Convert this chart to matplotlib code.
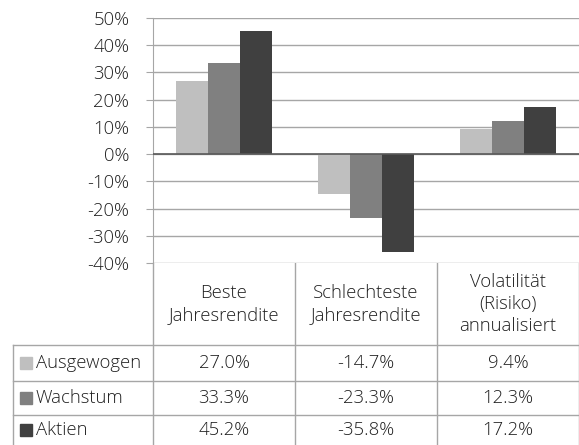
import numpy as np
import matplotlib.pyplot as plt
from matplotlib.ticker import PercentFormatter

plt.rcParams['font.family'] = ['Open Sans', 'DejaVu Sans']
plt.rcParams['font.weight'] = 300
plt.rcParams['axes.unicode_minus'] = False

# Daten
kategorien = ['Beste\nJahresrendite', 'Schlechteste\nJahresrendite', 'Volatilität\n(Risiko)\nannualisiert']
serien = ['Ausgewogen', 'Wachstum', 'Aktien']
ausgewogen = [27.0, -14.7, 9.4]
wachstum = [33.3, -23.3, 12.3]
aktien = [45.2, -35.8, 17.2]
farben = ['#BFBFBF', '#808080', '#404040']
y_ticks = list(range(-40, 51, 10))

W, H = 579, 445
fig = plt.figure(figsize=(W / 100, H / 100), dpi=100)
textfarbe = '#1F1F1F'
grau = '#A6A6A6'
fs = 13.3

# Diagrammbereich (Pixel: links 153, oben 18, unten 263)
ax = fig.add_axes([153 / W, 1 - 263 / H, (W - 153) / W, (263 - 18) / H])
x = np.arange(len(kategorien))
breite = 0.225
werte = [ausgewogen, wachstum, aktien]
for i, (name, vals) in enumerate(zip(serien, werte)):
    ax.bar(x + (i - 1) * breite, vals, breite, color=farben[i], zorder=3)

ax.set_xlim(-0.5, len(kategorien) - 0.5)
ax.set_ylim(-40, 50)
ax.set_yticks(y_ticks)
ax.yaxis.set_major_formatter(PercentFormatter(decimals=0))
ax.set_xticks([])
ax.grid(axis='y', color=grau, lw=1, zorder=0)
ax.axhline(0, color='#595959', lw=1.2, zorder=4)
for s in ['top', 'right', 'bottom']:
    ax.spines[s].set_visible(False)
ax.spines['left'].set_color(grau)
ax.tick_params(axis='y', length=5, color=grau, labelsize=fs, labelcolor=textfarbe, pad=12)

# Datentabelle unterhalb (Pixelkoordinaten)
tab = fig.add_axes([0, 0, 1, 1], zorder=-1)
tab.set_xlim(0, W)
tab.set_ylim(H, 0)
tab.axis('off')

spalten_x = [153, 295, 437, 579]
zeilen_y = [263, 345, 381, 415, 445]
lc = grau
for sx in spalten_x:
    tab.plot([sx, sx], [263, H], color=lc, lw=1)
tab.plot([13, 13], [345, H], color=lc, lw=1)
for zy in zeilen_y[1:4]:
    tab.plot([13, W], [zy, zy], color=lc, lw=1)

mitten = [(a + b) / 2 for a, b in zip(spalten_x[:-1], spalten_x[1:])]
for cx, kat in zip(mitten, kategorien):
    tab.text(cx, 304, kat, ha='center', va='center', fontsize=fs,
             color=textfarbe, linespacing=1.32)

for r, (name, vals) in enumerate(zip(serien, werte)):
    cy = (zeilen_y[r + 1] + zeilen_y[r + 2]) / 2
    tab.add_patch(plt.Rectangle((20, cy - 6), 12, 12, color=farben[r]))
    tab.text(36, cy, name, ha='left', va='center', fontsize=fs, color=textfarbe)
    for cx, v in zip(mitten, vals):
        tab.text(cx, cy, f'{v:.1f}%', ha='center', va='center', fontsize=fs, color=textfarbe)

fig.savefig('out.png', dpi=100)
